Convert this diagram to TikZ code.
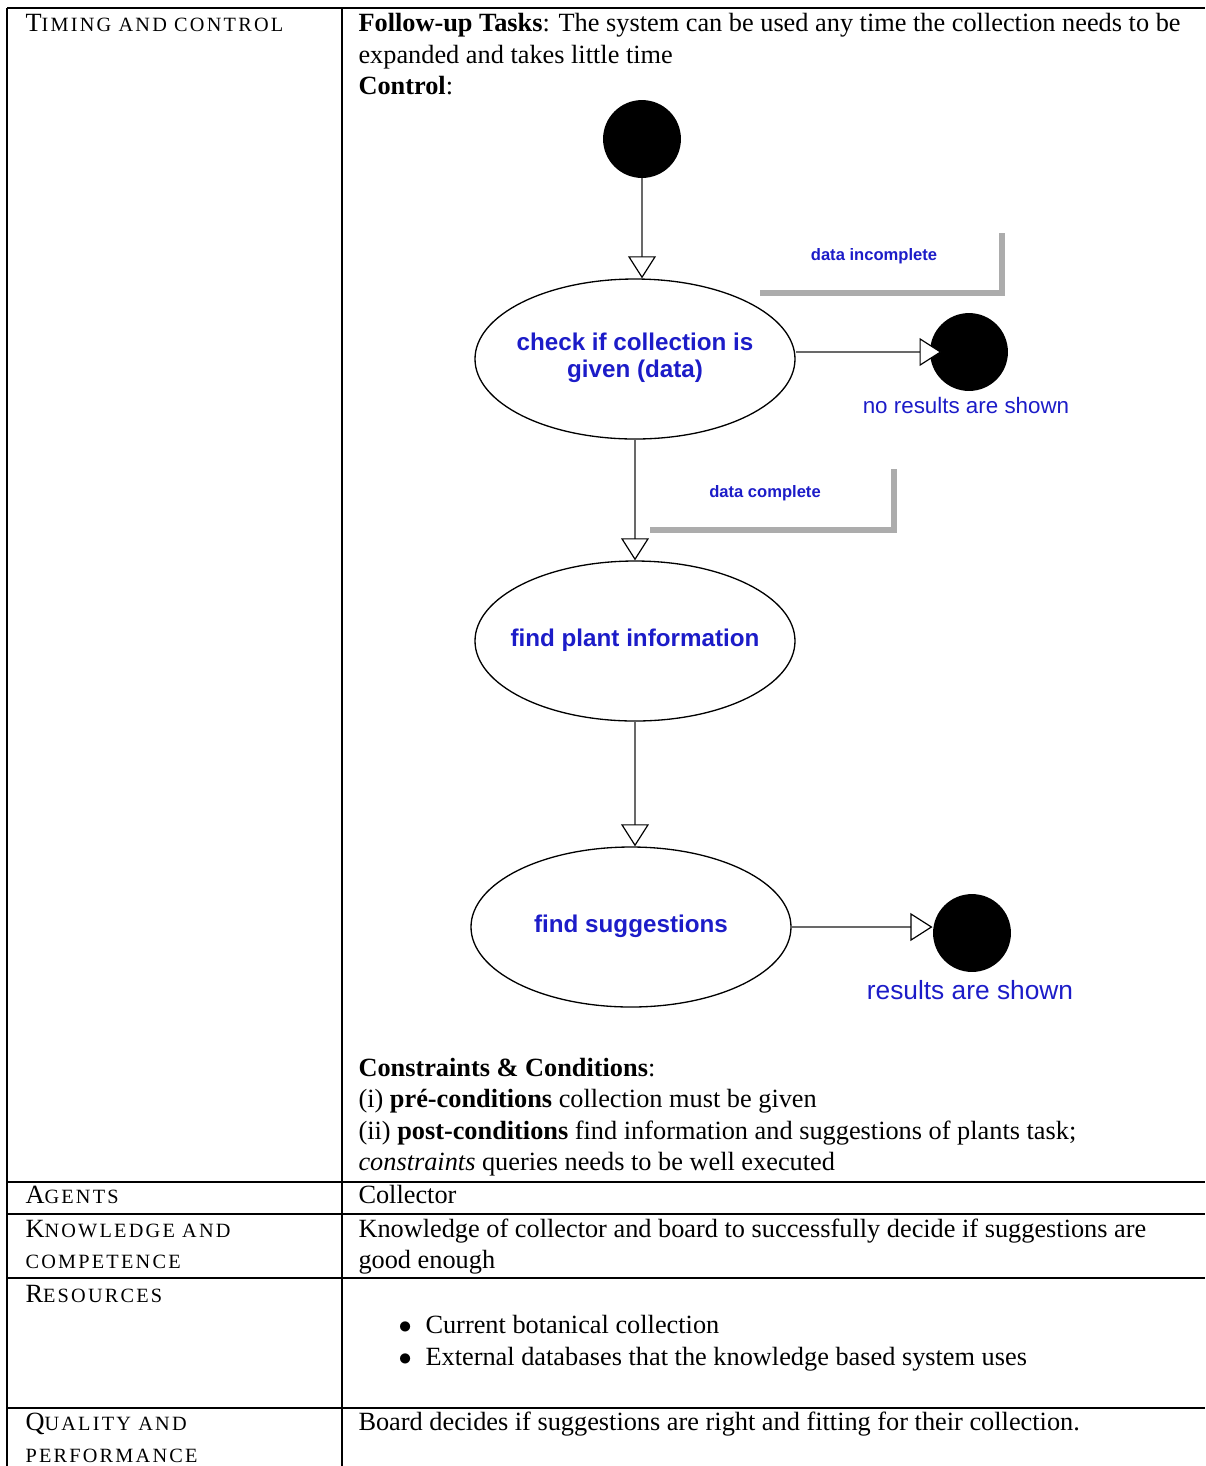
\documentclass[tikz,border=0pt]{standalone}
\usepackage{fontspec}
\setmainfont{Liberation Serif}
\newfontfamily\diafont{Liberation Sans}
\newfontfamily\scfont[LetterSpace=11]{Liberation Serif}
\usetikzlibrary{arrows.meta,shapes.geometric}
\definecolor{diablue}{RGB}{28,28,200}
\definecolor{guardgray}{RGB}{172,172,172}
\definecolor{conngray}{RGB}{105,105,105}
\newcommand{\fsc}[2]{#1{\fontsize{7.7}{9}\scfont #2}}
\newcommand{\allsc}[1]{{\fontsize{7.7}{9}\scfont #1}}
\newcommand{\fixbox}[1]{\makebox[0pt]{\begin{tabular}{@{}c@{}}#1\end{tabular}}}
\tikzset{
  txt/.style={anchor=base west, inner sep=0pt, font=\fontsize{10}{12}\selectfont},
  rule/.style={line width=0.4pt, draw=black},
  act/.style={ellipse, draw=black, line width=0.5pt, minimum width=121.6pt, minimum height=60.8pt, inner sep=0pt, align=center, text=diablue, font=\diafont\bfseries\fontsize{9.2}{10.3}\selectfont},
  dot/.style={circle, fill=black, minimum size=29.6pt, inner sep=0pt},
  conn/.style={draw=conngray, line width=0.9pt, -{Triangle[length=8.4pt,width=10.6pt,color=black,fill=white,line width=0.45pt]}},
  guard/.style={draw=guardgray, line width=2.3pt},
  guardlbl/.style={inner sep=0pt, text=diablue, font=\diafont\bfseries\fontsize{6.3}{7.5}\selectfont},
  endlbl/.style={inner sep=0pt, text=diablue, font=\diafont\fontsize{8.5}{10}\selectfont},
}
\begin{document}
\begin{tikzpicture}[x=0.38pt,y=-0.38pt]
\useasboundingbox (0,0) rectangle (1205,1466);
% table rules
\draw[rule] (7,8) -- (1205,8);
\draw[rule] (7,8) -- (7,1466);
\draw[rule] (342,8) -- (342,1466);
\draw[rule] (7,1182) -- (1205,1182);
\draw[rule] (7,1214) -- (1205,1214);
\draw[rule] (7,1278) -- (1205,1278);
\draw[rule] (7,1408) -- (1205,1408);
% left column
\node[txt] (h1) at (25,31.5) {\fsc{T}{IMING AND CONTROL}};
\node[txt] (h2) at (25,1203) {\fsc{A}{GENTS}};
\node[txt] (h3a) at (25,1237) {\fsc{K}{NOWLEDGE AND}};
\node[txt] (h3b) at (25,1268.5) {\allsc{COMPETENCE}};
\node[txt] (h4) at (25,1302) {\fsc{R}{ESOURCES}};
\node[txt] (h5a) at (25,1430) {\fsc{Q}{UALITY AND}};
\node[txt] (h5b) at (25,1462) {\allsc{PERFORMANCE}};
% right column text
\node[txt] (r1) at (358,31.5) {\textbf{Follow-up Tasks}: The system can be used any time the collection needs to be};
\node[txt] (r2) at (358,63) {expanded and takes little time};
\node[txt] (r3) at (358,94.5) {\textbf{Control}:};
\node[txt] (c1) at (358,1076) {\textbf{Constraints \& Conditions}:};
\node[txt] (c2) at (358,1107.5) {(i) \textbf{pré-conditions} collection must be given};
\node[txt] (c3) at (358,1139) {(ii) \textbf{post-conditions} find information and suggestions of plants task;};
\node[txt] (c4) at (358,1170.5) {\textit{constraints} queries needs to be well executed};
\node[txt] (a1) at (358,1203) {Collector};
\node[txt] (k1) at (358,1237) {Knowledge of collector and board to successfully decide if suggestions are};
\node[txt] (k2) at (358,1268.5) {good enough};
\node[txt] (b1) at (398,1333.5) {$\bullet$};
\node[txt] (s1) at (425,1333.5) {Current botanical collection};
\node[txt] (b2) at (398,1365) {$\bullet$};
\node[txt] (s2) at (425,1365) {External databases that the knowledge based system uses};
\node[txt] (q1) at (358,1430) {Board decides if suggestions are right and fitting for their collection.};
% diagram
\node[dot] (start) at (642,139) {};
\node[act] (e1) at (635,359) {\fixbox{check if collection is\\given (data)}};
\node[dot] (end1) at (969,352) {};
\node[act] (e2) at (635,641) {\fixbox{find plant information}};
\node[act] (e3) at (631,927) {\fixbox{find suggestions}};
\node[dot] (end2) at (972,933) {};
\node[endlbl] (n1) at (966,405) {no results are shown};
\node[endlbl, font=\diafont\fontsize{10}{12}\selectfont] (n2) at (970,990) {results are shown};
% guards
\draw[guard] (760,293) -- (1002,293) -- (1002,233);
\node[guardlbl] (g1) at (874,256) {data incomplete};
\draw[guard] (650,530) -- (894,530) -- (894,469);
\node[guardlbl] (g2) at (765,493) {data complete};
% connectors
\draw[conn] (start) -- (start |- e1.north);
\draw[conn] (e1.east |- end1) -- ([xshift=4.6pt]end1.west);
\draw[conn] (e1.south) -- (e2.north);
\draw[conn] (e2.south) -- (e2.south |- e3.north);
\draw[conn] (e3.east) -- (e3.east -| end2.west);
\end{tikzpicture}
\end{document}
